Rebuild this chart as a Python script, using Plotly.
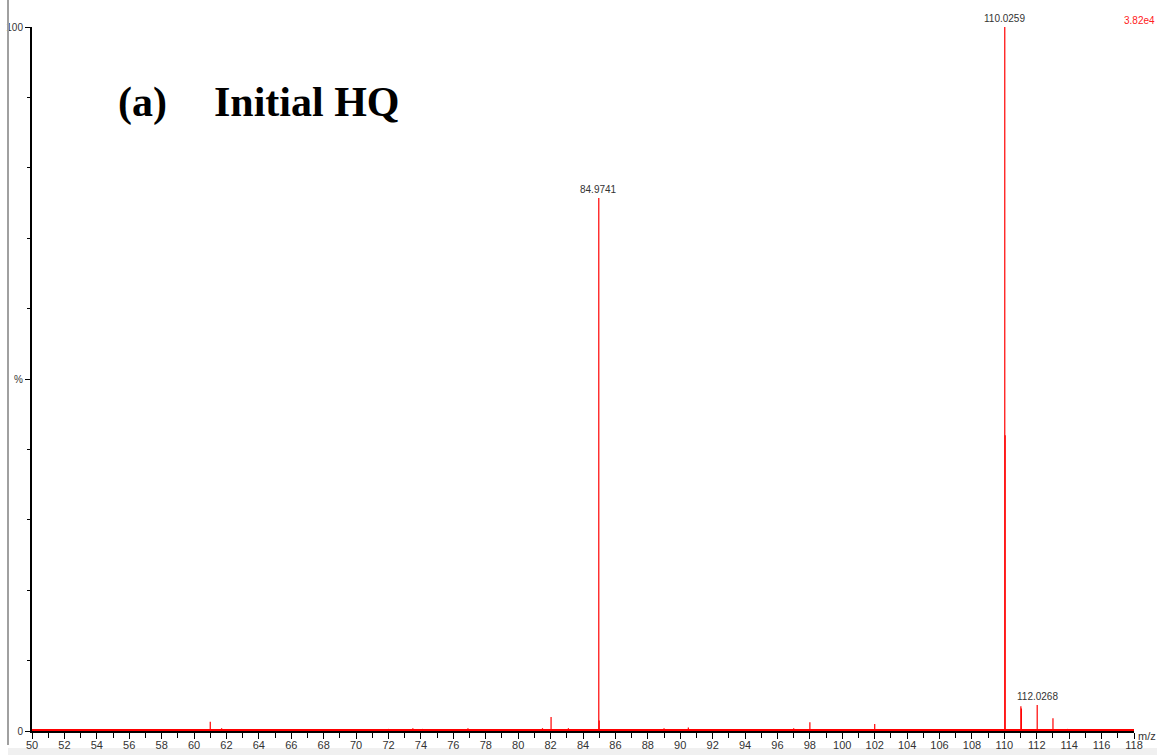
import plotly.graph_objects as go

# Centroided peak list: m/z and relative intensity (%)
mz = [50.2, 52.1, 52.9, 53.1, 53.5, 55.3, 56.8, 61.0, 61.5, 61.7, 62.2, 64.5, 65.3,
      66.8, 70.0, 70.6, 72.0, 73.5, 73.9, 74.1, 76.9, 78.6, 79.0, 81.5, 82.03, 82.6,
      82.9, 83.1, 84.1, 84.9741, 85.0, 86.0, 87.0, 89.0, 90.5, 90.6, 91.0, 93.5, 95.0,
      97.0, 97.1, 97.3, 98.0, 99.0, 100.0, 102.0, 103.0, 103.5, 105.0, 107.0, 108.0,
      109.0, 109.5, 110.0259, 110.05, 111.02, 111.05, 112.0268, 113.0, 113.9, 114.0,
      115.0, 117.2]
intensity = [0.3, 0.3, 0.3, 0.3, 0.3, 0.2, 0.2, 1.3, 0.3, 0.4, 0.3, 0.2, 0.2,
             0.2, 0.3, 0.2, 0.3, 0.4, 0.3, 0.3, 0.4, 0.2, 0.2, 0.4, 2.0, 0.3,
             0.3, 0.4, 0.3, 75.7, 1.5, 0.2, 0.2, 0.4, 0.5, 0.3, 0.2, 0.2, 0.2,
             0.4, 0.3, 0.2, 1.25, 0.3, 0.2, 1.0, 0.3, 0.3, 0.2, 0.2, 0.2,
             0.2, 0.3, 100.0, 42.0, 3.5, 3.2, 3.7, 1.8, 0.3, 0.3,
             0.2, 0.2]

# Annotated peaks
label_mz = [84.9741, 110.0259, 112.0268]
label_int = [75.7, 100.0, 3.7]

x_ticks = list(range(50, 119, 2))
y_tickvals = [0, 50, 100]
y_ticktext = ["0", "%", "100"]
base_peak_intensity = "3.82e4"

W, H = 1157, 755
L, R, T, B = 32, 1134, 27, 731


def px(xp):
    return (xp - L) / (R - L)


def py(yp):
    return (B - yp) / (B - T)


# Stick spectrum built from the peak list
sx, sy = [], []
for m, i in zip(mz, intensity):
    sx += [m, m, None]
    sy += [0, i, None]

fig = go.Figure()
# noisy red baseline
fig.add_trace(go.Scatter(
    x=[50, 118], y=[0.15, 0.15], mode="lines",
    line=dict(color="#ff0000", width=2),
    hoverinfo="skip", showlegend=False,
))
fig.add_trace(go.Scatter(
    x=sx, y=sy, mode="lines",
    line=dict(color="#ff0000", width=1.2),
    hoverinfo="skip", showlegend=False, cliponaxis=False,
))

annotations = []
for m, i in zip(label_mz, label_int):
    annotations.append(dict(
        x=m, y=i, xref="x", yref="y", text=f"{m:.4f}", showarrow=False,
        yanchor="bottom", yshift=1,
        font=dict(family="Liberation Sans, Arial", size=10, color="#333333"),
    ))

annotations += [
    dict(x=px(1157), y=py(21), xref="paper", yref="paper", text=base_peak_intensity,
         showarrow=False, xanchor="right", yanchor="middle",
         font=dict(family="Liberation Sans, Arial", size=10, color="#ff2020")),
    dict(x=px(1136), y=py(736), xref="paper", yref="paper", text="m/z",
         showarrow=False, xanchor="left", yanchor="middle",
         font=dict(family="Liberation Sans, Arial", size=11, color="#333333")),
    dict(x=px(116), y=py(102), xref="paper", yref="paper", text="<b>(a)</b>",
         showarrow=False, xanchor="left", yanchor="middle",
         font=dict(family="Liberation Serif, Times New Roman", size=42, color="#000000")),
    dict(x=px(212), y=py(102), xref="paper", yref="paper", text="<b>Initial HQ</b>",
         showarrow=False, xanchor="left", yanchor="middle",
         font=dict(family="Liberation Serif, Times New Roman", size=42, color="#000000")),
]

shapes = [
    # window frame on the left and at the bottom
    dict(type="line", xref="paper", yref="paper", x0=px(8), x1=px(8), y0=py(0), y1=py(745),
         line=dict(color="#a0a0a0", width=2)),
    dict(type="rect", xref="paper", yref="paper", x0=px(8), x1=px(1157), y0=py(748), y1=py(755),
         fillcolor="#f0f0f0", line=dict(width=0), layer="below"),
]

fig.update_layout(
    width=W, height=H,
    margin=dict(l=L, r=W - R, t=T, b=H - B, pad=0, autoexpand=False),
    paper_bgcolor="white", plot_bgcolor="white",
    annotations=annotations, shapes=shapes,
    showlegend=False,
    xaxis=dict(
        range=[50, 118], tickmode="array", tickvals=x_ticks, automargin=False,
        ticks="outside", ticklen=6, tickwidth=1, tickcolor="#000000",
        ticklabelstandoff=-3,
        minor=dict(dtick=1, tick0=50, ticks="outside", ticklen=5, tickcolor="#000000"),
        showline=True, linecolor="#000000", linewidth=2,
        showgrid=False, zeroline=False,
        tickfont=dict(family="Liberation Sans Narrow, Liberation Sans, Arial", size=11, color="#333333"),
    ),
    yaxis=dict(
        range=[0, 100], tickmode="array", tickvals=y_tickvals, ticktext=y_ticktext,
        automargin=False,
        ticks="outside", ticklen=5, tickwidth=1, tickcolor="#000000",
        minor=dict(dtick=10, tick0=0, ticks="outside", ticklen=3, tickcolor="#000000"),
        showline=True, linecolor="#000000", linewidth=2,
        showgrid=False, zeroline=False,
        tickfont=dict(family="Liberation Sans Narrow, Liberation Sans, Arial", size=10, color="#333333"),
    ),
)

fig.write_html("out.html")
